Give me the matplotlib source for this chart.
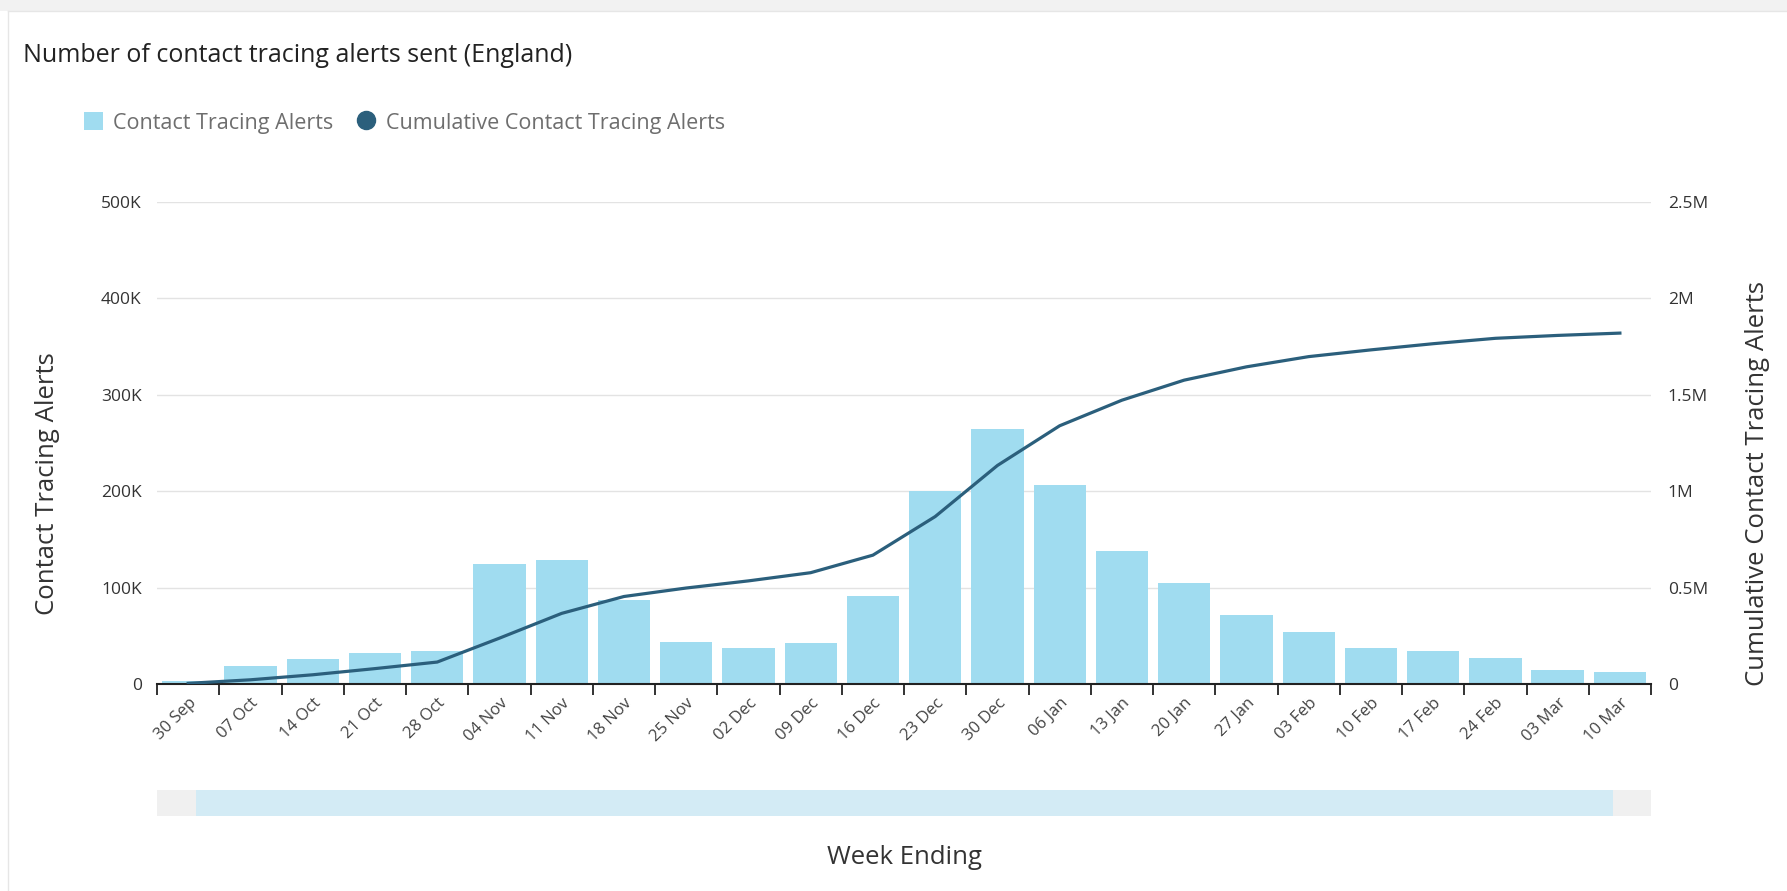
import matplotlib.pyplot as plt
from matplotlib.patches import Rectangle, Patch
from matplotlib.lines import Line2D

plt.rcParams['font.family'] = ['Open Sans', 'DejaVu Sans']

# Data
weeks = ['30 Sep', '07 Oct', '14 Oct', '21 Oct', '28 Oct', '04 Nov', '11 Nov', '18 Nov',
         '25 Nov', '02 Dec', '09 Dec', '16 Dec', '23 Dec', '30 Dec', '06 Jan', '13 Jan',
         '20 Jan', '27 Jan', '03 Feb', '10 Feb', '17 Feb', '24 Feb', '03 Mar', '10 Mar']
alerts = [3500, 18400, 26000, 32000, 34000, 124000, 128500, 87500,
          44000, 37000, 42500, 91000, 200000, 265000, 206000, 138000,
          105000, 72000, 54000, 37000, 34000, 27000, 15000, 12000]
cumulative = [3500, 21900, 47900, 79900, 113900, 237900, 366400, 453900,
              497900, 534900, 577400, 668400, 868400, 1133400, 1339400, 1472000,
              1576000, 1645000, 1698000, 1733000, 1765000, 1793000, 1808000, 1820000]
left_ticks = [0, 100000, 200000, 300000, 400000, 500000]
left_labels = ['0', '100K', '200K', '300K', '400K', '500K']
right_ticks = [0, 500000, 1000000, 1500000, 2000000, 2500000]
right_labels = ['0', '0.5M', '1M', '1.5M', '2M', '2.5M']

bar_color = '#a0dcf0'
line_color = '#2b5f7c'
text_color = '#333333'

fig = plt.figure(figsize=(17.87, 8.91), dpi=100)
fig.patch.set_facecolor('white')

# card background / top band
fig.add_artist(Rectangle((0, 0.988), 1, 0.012, transform=fig.transFigure,
                         facecolor='#f2f2f2', edgecolor='none'))
fig.add_artist(Line2D([0.0045, 0.0045], [0, 0.988], transform=fig.transFigure,
                      color='#e6e6e6', lw=1))
fig.add_artist(Line2D([0.0045, 1], [0.988, 0.988], transform=fig.transFigure,
                      color='#e6e6e6', lw=1))

ax = fig.add_axes([0.0879, 0.2323, 0.836, 0.541])
x = list(range(len(weeks)))
ax.bar(x, alerts, width=0.84, color=bar_color, zorder=2)
ax.set_xlim(-0.5, len(weeks) - 0.5)
ax.set_ylim(0, 500000)
ax.set_yticks(left_ticks)
ax.set_yticklabels(left_labels)
ax.grid(axis='y', color='#e3e3e3', lw=1, zorder=0)
ax.set_axisbelow(True)
for s in ['top', 'right', 'left']:
    ax.spines[s].set_visible(False)
ax.spines['bottom'].set_color('#222222')
ax.spines['bottom'].set_linewidth(1.5)

# ticks at category boundaries, labels at category centres
ax.set_xticks([i - 0.5 for i in range(len(weeks) + 1)])
ax.set_xticklabels([])
ax.set_xticks(x, minor=True)
ax.set_xticklabels(weeks, minor=True, rotation=45, ha='right', va='top',
                   rotation_mode='anchor', fontsize=12, color='#444444')
ax.tick_params(axis='x', which='major', length=8, width=1.3, color='#222222')
ax.tick_params(axis='x', which='minor', length=0, pad=8)
ax.tick_params(axis='y', length=0, labelsize=12.5, labelcolor=text_color, pad=11)
ax.set_ylabel('Contact Tracing Alerts', fontsize=18.5, color=text_color)
ax.yaxis.set_label_coords(-0.065, 0.415)

ax2 = ax.twinx()
ax2.plot(x, cumulative, color=line_color, lw=2.3, zorder=3)
ax2.set_ylim(0, 2500000)
ax2.set_yticks(right_ticks)
ax2.set_yticklabels(right_labels)
for s in ax2.spines.values():
    s.set_visible(False)
ax2.tick_params(axis='y', length=0, labelsize=12.5, labelcolor=text_color, pad=12)
ax2.set_ylabel('Cumulative Contact Tracing Alerts', fontsize=18.5, color=text_color)
ax2.yaxis.set_label_coords(1.063, 0.415)

# title
fig.text(0.013, 0.938, 'Number of contact tracing alerts sent (England)',
         fontsize=18, color='#222222', ha='left', va='center')

# legend
handles = [Patch(facecolor=bar_color, edgecolor='none'),
           Line2D([], [], marker='o', ls='none', color=line_color, markersize=13)]
leg = fig.legend(handles, ['Contact Tracing Alerts', 'Cumulative Contact Tracing Alerts'],
                 loc='center left', bbox_to_anchor=(0.036, 0.862), ncol=2, frameon=False,
                 fontsize=15.5, handlelength=0.9, handleheight=0.9, handletextpad=0.45,
                 columnspacing=1.1)
for t in leg.get_texts():
    t.set_color('#6e6e6e')

# scroll bar under the chart
fig.add_artist(Rectangle((0.0879, 0.084), 0.836, 0.029, transform=fig.transFigure,
                         facecolor='#f0f0f0', edgecolor='none'))
fig.add_artist(Rectangle((0.1097, 0.084), 0.7927, 0.029, transform=fig.transFigure,
                         facecolor='#d3ebf5', edgecolor='none'))

# x axis title
fig.text(0.506, 0.038, 'Week Ending', fontsize=18.5, color=text_color,
         ha='center', va='center')

fig.savefig('out.png', dpi=100)
